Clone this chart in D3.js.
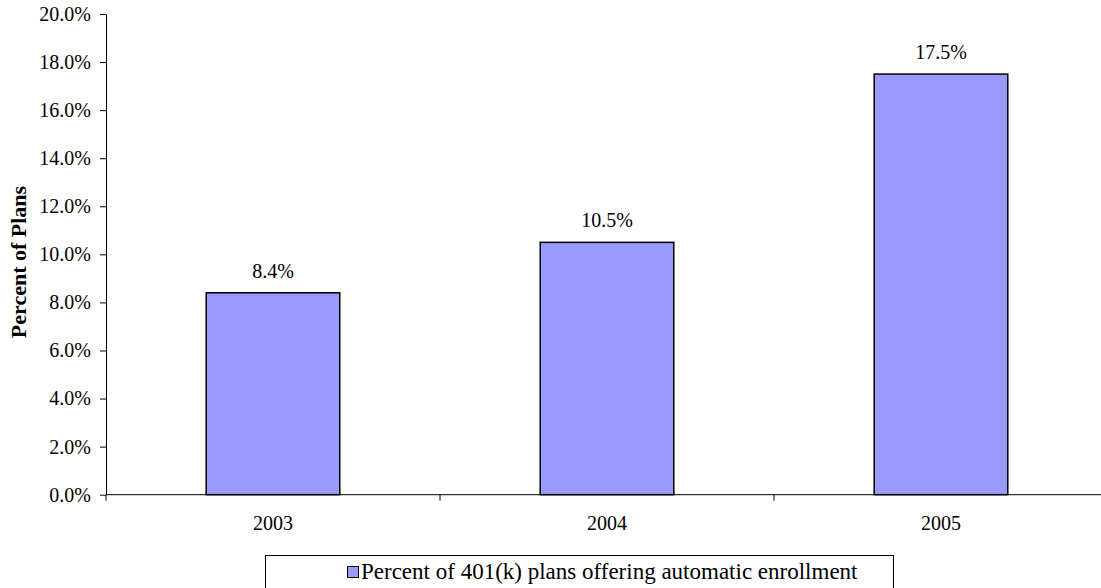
<!DOCTYPE html>
<html><head><meta charset="utf-8">
<script src="https://cdn.jsdelivr.net/npm/d3@7"></script>
<style>body{margin:0;background:#fff}svg{display:block}</style>
</head><body>
<svg id="c" width="1101" height="588"></svg>
<script>
const categories = ["2003", "2004", "2005"];
const values = [0.084, 0.105, 0.175];
const yTicks = [0, 0.02, 0.04, 0.06, 0.08, 0.10, 0.12, 0.14, 0.16, 0.18, 0.20];
const seriesName = "Percent of 401(k) plans offering automatic enrollment";
const yTitle = "Percent of Plans";

const svg = d3.select("#c");
const font = "'Liberation Serif','Times New Roman',serif";
const x = d3.scaleBand().domain(categories).range([106, 1108]).paddingInner(0.6).paddingOuter(0.3);
const y = d3.scaleLinear().domain([0, 0.2]).range([494.7, 14]);
const fmt = d3.format(".1%");

// bars
svg.append("g").selectAll("rect").data(values).join("rect")
  .attr("x", (d, i) => x(categories[i]))
  .attr("y", d => y(d))
  .attr("width", x.bandwidth())
  .attr("height", d => y(0) - y(d))
  .attr("fill", "#9999ff").attr("stroke", "#000").attr("stroke-width", 1.5);

// y axis
const ya = svg.append("g").attr("transform", "translate(106,0)")
  .call(d3.axisLeft(y).tickValues(yTicks).tickFormat(fmt).tickSize(6).tickPadding(9).tickSizeOuter(0));
ya.selectAll("text").attr("font-family", font).attr("font-size", 20).attr("fill", "#000");
ya.selectAll("line,path").attr("stroke", "#000");

// x axis
const xa = svg.append("g").attr("transform", `translate(0,${y(0)})`)
  .call(d3.axisBottom(x).tickSize(0).tickPadding(21).tickSizeOuter(0));
xa.select("path").attr("d", `M106,0H1108`).attr("stroke", "#000");
xa.selectAll("text").attr("font-family", font).attr("font-size", 20).attr("fill", "#000");
const gap = (x.step() - x.bandwidth()) / 2;
const bounds = categories.map(c => x(c) - gap).concat([x(categories[categories.length - 1]) + x.bandwidth() + gap]);
xa.selectAll("line.b").data(bounds).join("line").attr("class", "b")
  .attr("x1", d => d).attr("x2", d => d).attr("y1", 0).attr("y2", 6).attr("stroke", "#000");

// data labels
svg.append("g").selectAll("text").data(values).join("text")
  .attr("x", (d, i) => x(categories[i]) + x.bandwidth() / 2)
  .attr("y", d => y(d) - 15)
  .attr("text-anchor", "middle").attr("font-family", font).attr("font-size", 20)
  .text(d => fmt(d));

// y title
svg.append("text").attr("transform", `translate(26,262) rotate(-90)`)
  .attr("text-anchor", "middle").attr("font-family", font).attr("font-size", 22).attr("font-weight", "bold")
  .text(yTitle);

// legend
const lg = svg.append("g");
lg.append("rect").attr("x", 265.5).attr("y", 555.5).attr("width", 628).attr("height", 40)
  .attr("fill", "#fff").attr("stroke", "#000");
lg.append("rect").attr("x", 347.5).attr("y", 566.5).attr("width", 11).attr("height", 11)
  .attr("fill", "#9999ff").attr("stroke", "#000");
lg.append("text").attr("x", 361).attr("y", 579.3).attr("font-family", font).attr("font-size", 23)
  .text(seriesName);
</script>
</body></html>
